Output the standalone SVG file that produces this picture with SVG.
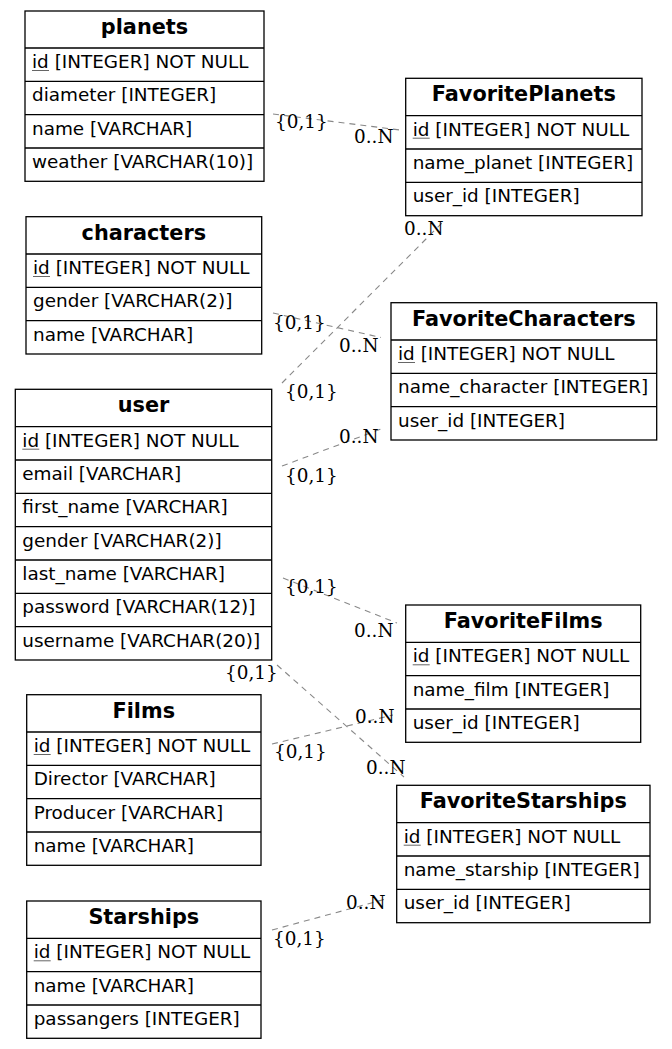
<svg xmlns="http://www.w3.org/2000/svg" width="672" height="1049" viewBox="0 0 672 1049">
<style>
.tb{fill:#fff;stroke:#000;stroke-width:1.3}
.sep{stroke:#000;stroke-width:1.3}
.h{font-family:"DejaVu Sans",sans-serif;font-weight:bold;font-size:20.8px;text-anchor:middle;fill:#000}
.r{font-family:"DejaVu Sans",sans-serif;font-size:18.4px;fill:#000}
.pk{stroke:#666;stroke-width:1}
.e{stroke:#888;stroke-width:1.1;stroke-dasharray:6,5;fill:none}
.l{font-family:"DejaVu Serif",serif;font-size:18.4px;fill:#000}
</style>
<rect width="672" height="1049" fill="#fff"/>
<g id="connectors">
<path class="e" d="M273,114 L400,130"/>
<path class="e" d="M273,313 L381,337.5"/>
<path class="e" d="M282,383 L444,221"/>
<path class="e" d="M282,466 L381,429"/>
<path class="e" d="M283,578 L397,623"/>
<path class="e" d="M277,665 L404,777"/>
<path class="e" d="M272,744 L393,715"/>
<path class="e" d="M272,930 L386,899"/>
<text class="l" x="275" y="128">{0,1}</text><text class="l" x="354" y="143">0..N</text>
<text class="l" x="273" y="328.5">{0,1}</text><text class="l" x="339" y="352">0..N</text>
<text class="l" x="285" y="398">{0,1}</text><text class="l" x="404" y="235">0..N</text>
<text class="l" x="285" y="482">{0,1}</text><text class="l" x="339" y="443">0..N</text>
<text class="l" x="285" y="593">{0,1}</text><text class="l" x="354" y="637">0..N</text>
<text class="l" x="225" y="679">{0,1}</text><text class="l" x="366" y="774">0..N</text>
<text class="l" x="274" y="758">{0,1}</text><text class="l" x="355" y="723">0..N</text>
<text class="l" x="273" y="945">{0,1}</text><text class="l" x="346" y="909">0..N</text>
</g>
<g id="planets">
<rect class="tb" x="25" y="11" width="239" height="170.3"/>
<path class="sep" d="M25,48H264M25,81.3H264M25,114.7H264M25,148H264"/>
<text class="h" x="144.5" y="34">planets</text>
<text class="r" x="32" y="68">id [INTEGER] NOT NULL</text><path class="pk" d="M32,70.5H49"/>
<text class="r" x="32" y="101.3">diameter [INTEGER]</text>
<text class="r" x="32" y="134.7">name [VARCHAR]</text>
<text class="r" x="32" y="168">weather [VARCHAR(10)]</text>
</g>
<g id="FavoritePlanets">
<rect class="tb" x="405.7" y="78.3" width="236.3" height="137.4"/>
<path class="sep" d="M405.7,115.7H642M405.7,149H642M405.7,182.3H642"/>
<text class="h" x="523.8" y="101.3">FavoritePlanets</text>
<text class="r" x="412.7" y="135.7">id [INTEGER] NOT NULL</text><path class="pk" d="M412.7,138.2H429.7"/>
<text class="r" x="412.7" y="169">name_planet [INTEGER]</text>
<text class="r" x="412.7" y="202.3">user_id [INTEGER]</text>
</g>
<g id="characters">
<rect class="tb" x="26" y="216.7" width="235.7" height="137.3"/>
<path class="sep" d="M26,254H261.7M26,287.3H261.7M26,320.7H261.7"/>
<text class="h" x="143.8" y="239.7">characters</text>
<text class="r" x="33" y="274">id [INTEGER] NOT NULL</text><path class="pk" d="M33,276.5H50"/>
<text class="r" x="33" y="307.3">gender [VARCHAR(2)]</text>
<text class="r" x="33" y="340.7">name [VARCHAR]</text>
</g>
<g id="FavoriteCharacters">
<rect class="tb" x="391" y="302.7" width="265.7" height="137.3"/>
<path class="sep" d="M391,340H656.7M391,373.3H656.7M391,406.7H656.7"/>
<text class="h" x="523.8" y="325.7">FavoriteCharacters</text>
<text class="r" x="398" y="360">id [INTEGER] NOT NULL</text><path class="pk" d="M398,362.5H415"/>
<text class="r" x="398" y="393.3">name_character [INTEGER]</text>
<text class="r" x="398" y="426.7">user_id [INTEGER]</text>
</g>
<g id="user">
<rect class="tb" x="15.3" y="389.3" width="256.4" height="270.7"/>
<path class="sep" d="M15.3,426.7H271.7M15.3,460H271.7M15.3,493.3H271.7M15.3,526.7H271.7M15.3,560H271.7M15.3,593.3H271.7M15.3,626.7H271.7"/>
<text class="h" x="143.5" y="412.3">user</text>
<text class="r" x="22.3" y="446.7">id [INTEGER] NOT NULL</text><path class="pk" d="M22.3,449.2H39.3"/>
<text class="r" x="22.3" y="480">email [VARCHAR]</text>
<text class="r" x="22.3" y="513.3">first_name [VARCHAR]</text>
<text class="r" x="22.3" y="546.7">gender [VARCHAR(2)]</text>
<text class="r" x="22.3" y="580">last_name [VARCHAR]</text>
<text class="r" x="22.3" y="613.3">password [VARCHAR(12)]</text>
<text class="r" x="22.3" y="646.7">username [VARCHAR(20)]</text>
</g>
<g id="FavoriteFilms">
<rect class="tb" x="405.7" y="605" width="235" height="137.3"/>
<path class="sep" d="M405.7,642.3H640.7M405.7,675.7H640.7M405.7,709H640.7"/>
<text class="h" x="523.2" y="628">FavoriteFilms</text>
<text class="r" x="412.7" y="662.3">id [INTEGER] NOT NULL</text><path class="pk" d="M412.7,664.8H429.7"/>
<text class="r" x="412.7" y="695.7">name_film [INTEGER]</text>
<text class="r" x="412.7" y="729">user_id [INTEGER]</text>
</g>
<g id="Films">
<rect class="tb" x="26.7" y="694.7" width="234.3" height="170.6"/>
<path class="sep" d="M26.7,732H261M26.7,765.3H261M26.7,798.7H261M26.7,832H261"/>
<text class="h" x="143.8" y="717.7">Films</text>
<text class="r" x="33.7" y="752">id [INTEGER] NOT NULL</text><path class="pk" d="M33.7,754.5H50.7"/>
<text class="r" x="33.7" y="785.3">Director [VARCHAR]</text>
<text class="r" x="33.7" y="818.7">Producer [VARCHAR]</text>
<text class="r" x="33.7" y="852">name [VARCHAR]</text>
</g>
<g id="FavoriteStarships">
<rect class="tb" x="396.7" y="785.3" width="253.3" height="137.4"/>
<path class="sep" d="M396.7,822.7H650M396.7,856H650M396.7,889.3H650"/>
<text class="h" x="523.3" y="808.3">FavoriteStarships</text>
<text class="r" x="403.7" y="842.7">id [INTEGER] NOT NULL</text><path class="pk" d="M403.7,845.2H420.7"/>
<text class="r" x="403.7" y="876">name_starship [INTEGER]</text>
<text class="r" x="403.7" y="909.3">user_id [INTEGER]</text>
</g>
<g id="Starships">
<rect class="tb" x="26.7" y="901" width="234.3" height="137.3"/>
<path class="sep" d="M26.7,938.3H261M26.7,971.7H261M26.7,1005H261"/>
<text class="h" x="143.8" y="924">Starships</text>
<text class="r" x="33.7" y="958.3">id [INTEGER] NOT NULL</text><path class="pk" d="M33.7,960.8H50.7"/>
<text class="r" x="33.7" y="991.7">name [VARCHAR]</text>
<text class="r" x="33.7" y="1025">passangers [INTEGER]</text>
</g>
</svg>
